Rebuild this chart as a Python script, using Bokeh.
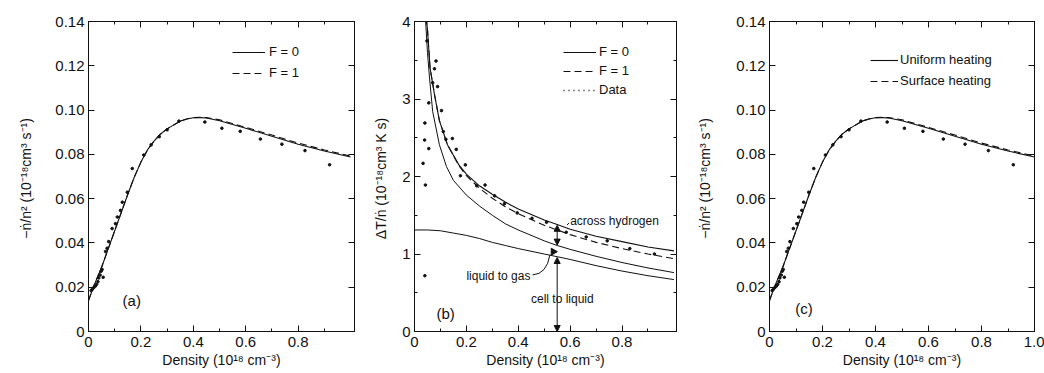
import math
from bokeh.plotting import figure
from bokeh.layouts import row
from bokeh.models import (Range1d, FixedTicker, CustomJSTickFormatter, LinearAxis,
                          Legend, LegendItem, Label, Arrow, NormalHead)
from bokeh.embed import file_html
from bokeh.resources import INLINE

# ---------------- data: panels (a) and (c) ----------------
rate_x = [0, 0.02, 0.05, 0.1, 0.15, 0.175, 0.2, 0.225, 0.25, 0.275, 0.3, 0.35, 0.375, 0.4, 0.425, 0.45, 0.5, 0.6, 0.7, 0.8, 0.9, 1.0]
rate_f0 = [0.0140, 0.0205, 0.0290, 0.0455, 0.0620, 0.0698, 0.0765, 0.0820, 0.0860, 0.0892, 0.0915, 0.0950, 0.0960, 0.0965, 0.0966, 0.0964, 0.0952, 0.0918, 0.0882, 0.0846, 0.0815, 0.0788]
rate_f1 = [0.0140, 0.0205, 0.0290, 0.0455, 0.0620, 0.0698, 0.0765, 0.0820, 0.0860, 0.0892, 0.0915, 0.0950, 0.0960, 0.0966, 0.0967, 0.0966, 0.0956, 0.0922, 0.0887, 0.0851, 0.0820, 0.0792]
rate_data_x = [0.010, 0.014, 0.020, 0.026, 0.031, 0.036, 0.039, 0.044, 0.048, 0.052, 0.056, 0.065, 0.071,
               0.077, 0.090, 0.103, 0.110, 0.122, 0.129, 0.148, 0.167, 0.211, 0.239, 0.270, 0.300, 0.345,
               0.444, 0.509, 0.579, 0.656, 0.738, 0.826, 0.920]
rate_data_y = [0.0185, 0.0190, 0.0198, 0.0205, 0.0213, 0.0225, 0.0242, 0.0255, 0.0272, 0.0280, 0.0245, 0.0361, 0.0376,
               0.0406, 0.0465, 0.0487, 0.0517, 0.0547, 0.0584, 0.0629, 0.0736, 0.0797, 0.0843, 0.0880, 0.0911, 0.0950,
               0.0946, 0.0918, 0.0904, 0.0869, 0.0846, 0.0817, 0.0753]

# ---------------- data: panel (b) ----------------
hyd_f0_x = [0.045, 0.05, 0.06, 0.077, 0.096, 0.127, 0.171, 0.2, 0.25, 0.3, 0.35, 0.4, 0.5, 0.55, 0.6, 0.7, 0.8, 0.9, 1.0]
hyd_f0_y = [4.05, 3.90, 3.40, 3.06, 2.72, 2.41, 2.15, 2.03, 1.88, 1.77, 1.67, 1.58, 1.44, 1.38, 1.32, 1.23, 1.16, 1.09, 1.04]
hyd_f1_x = [0.045, 0.05, 0.06, 0.077, 0.096, 0.127, 0.171, 0.2, 0.25, 0.3, 0.35, 0.4, 0.5, 0.6, 0.7, 0.8, 0.9, 1.0]
hyd_f1_y = [4.05, 3.90, 3.40, 3.06, 2.72, 2.41, 2.14, 2.01, 1.85, 1.72, 1.61, 1.52, 1.37, 1.25, 1.15, 1.07, 1.00, 0.94]
liq_x = [0.042, 0.05, 0.058, 0.07, 0.096, 0.123, 0.15, 0.2, 0.25, 0.3, 0.35, 0.4, 0.5, 0.55, 0.6, 0.7, 0.8, 0.9, 1.0]
liq_y = [4.05, 3.60, 3.27, 2.84, 2.41, 2.13, 1.95, 1.76, 1.62, 1.50, 1.39, 1.31, 1.17, 1.11, 1.06, 0.97, 0.89, 0.82, 0.76]
cell_x = [0, 0.05, 0.1, 0.15, 0.2, 0.25, 0.3, 0.35, 0.4, 0.5, 0.55, 0.6, 0.7, 0.8, 0.9, 1.0]
cell_y = [1.31, 1.31, 1.30, 1.27, 1.24, 1.20, 1.15, 1.11, 1.07, 1.00, 0.965, 0.93, 0.85, 0.78, 0.72, 0.67]
temp_data_x = [0.033, 0.040, 0.039, 0.040, 0.042, 0.048, 0.055, 0.055, 0.070, 0.077, 0.083, 0.089, 0.104, 0.111,
               0.121, 0.146, 0.161, 0.177, 0.196, 0.240, 0.272, 0.309, 0.347, 0.396, 0.453, 0.509, 0.585, 0.662,
               0.743, 0.830, 0.925]
temp_data_y = [2.17, 2.69, 2.47, 0.72, 1.89, 3.75, 2.95, 2.36, 3.21, 3.39, 3.49, 3.16, 2.85, 2.58,
               2.48, 2.49, 2.35, 2.01, 2.15, 1.88, 1.89, 1.75, 1.65, 1.53, 1.46, 1.41, 1.28, 1.22,
               1.17, 1.07, 1.00]

# ---------------- ticks / labels ----------------
x_ticks_ab = [0, 0.2, 0.4, 0.6, 0.8]
x_ticks_c = [0, 0.2, 0.4, 0.6, 0.8, 1.0]
x_minor = [0.1, 0.3, 0.5, 0.7, 0.9]
rate_ticks = [0, 0.02, 0.04, 0.06, 0.08, 0.10, 0.12, 0.14]
temp_ticks = [0, 1, 2, 3, 4]
temp_minor = [0.5, 1.5, 2.5, 3.5]

x_label = "Density (10¹⁸ cm⁻³)"
rate_label = "−ṅ/n²  (10⁻¹⁸cm³ s⁻¹)"
temp_label = "ΔT/ṅ  (10⁻¹⁸cm³ K s)"

FONT = "Liberation Sans"
INK = "#111111"

x_fmt = "return tick == 0 ? '0' : tick.toFixed(1);"
rate_fmt = "return tick == 0 ? '0' : tick.toFixed(2);"
temp_fmt = "return tick.toFixed(0);"
blank_fmt = "return '';"


def make_fig(width, left, right, top, bottom, xr, yr):
    p = figure(width=width, height=373, output_backend="svg", toolbar_location=None,
               x_range=Range1d(*xr), y_range=Range1d(*yr),
               min_border_left=left, min_border_right=right,
               min_border_top=top, min_border_bottom=bottom,
               x_axis_location=None, y_axis_location=None)
    p.grid.visible = False
    p.outline_line_color = INK
    p.outline_line_width = 1
    p.background_fill_color = "white"
    p.border_fill_color = "white"
    return p


def add_axes(p, xt, xm, yt, ym, yfmt, ylabel, ystand, xlab_stand=2):
    specs = [("below", xt, xm, x_fmt, x_label), ("above", xt, xm, blank_fmt, None),
             ("left", yt, ym, yfmt, ylabel), ("right", yt, ym, blank_fmt, None)]
    for side, ticks, minor, fmt, lab in specs:
        ax = LinearAxis(ticker=FixedTicker(ticks=ticks, minor_ticks=minor),
                        formatter=CustomJSTickFormatter(code=fmt))
        ax.major_tick_in = 6
        ax.major_tick_out = 0
        ax.minor_tick_in = 3
        ax.minor_tick_out = 0
        ax.axis_line_color = INK
        ax.major_tick_line_color = INK
        ax.minor_tick_line_color = INK
        ax.major_label_text_font = FONT
        ax.major_label_text_color = INK
        if fmt == blank_fmt:
            ax.major_label_text_font_size = "0px"
            ax.major_label_standoff = 0
        else:
            ax.major_label_text_font_size = "15px"
            ax.major_label_standoff = 4 if side == "left" else 5
        if lab:
            ax.axis_label = lab
            ax.axis_label_text_font = FONT
            ax.axis_label_text_font_style = "normal"
            ax.axis_label_text_font_size = "14px"
            ax.axis_label_text_color = INK
            ax.axis_label_standoff = ystand if side == "left" else xlab_stand
        p.add_layout(ax, side)


def legend(p, items, loc, glyph_w, standoff, spacing, gh):
    lg = Legend(items=items, location=loc, glyph_width=glyph_w, glyph_height=gh,
                label_height=gh, label_standoff=standoff, spacing=spacing,
                padding=0, margin=0, border_line_color=None, background_fill_alpha=0,
                label_text_font=FONT, label_text_font_size="13px", label_text_color=INK)
    p.add_layout(lg)


def rate_panel(width, left, right, top, bottom, xmax, xt, ystand, lab, names, loc, gw, gs, tag_xy):
    p = make_fig(width, left, right, top, bottom, (0, xmax), (0, 0.14))
    add_axes(p, xt, x_minor, rate_ticks, [], rate_fmt, rate_label, ystand)
    r0 = p.line(rate_x, rate_f0, line_color=INK, line_width=1.1)
    r1 = p.line(rate_x, rate_f1, line_color=INK, line_width=1.1, line_dash="7 4")
    p.scatter(rate_data_x, rate_data_y, size=2.6, color=INK, marker="circle")
    legend(p, [LegendItem(label=names[0], renderers=[r0]), LegendItem(label=names[1], renderers=[r1])],
           loc, gw, gs, 6, 14)
    p.add_layout(Label(x=tag_xy[0], y=tag_xy[1], text=lab, text_font=FONT, text_font_size="15px",
                       text_align="center", text_baseline="middle", text_color=INK))
    return p


# ---------------- panel (a) ----------------
pa = rate_panel(370, 88, 16, 17, 42, 1.015, x_ticks_ab, 18, "(a)", ("F = 0", "F = 1"),
                (144, 251), 33, 4, (0.165, 0.014))

# ---------------- panel (b) ----------------
pb = make_fig(310, 38, 4, 18, 42, (0, 1.01), (0, 4))
add_axes(pb, x_ticks_ab, x_minor, temp_ticks, temp_minor, temp_fmt, temp_label, 10)
rb0 = pb.line(hyd_f0_x, hyd_f0_y, line_color=INK, line_width=1.1)
rb1 = pb.line(hyd_f1_x, hyd_f1_y, line_color=INK, line_width=1.1, line_dash="7 4")
pb.line(liq_x, liq_y, line_color=INK, line_width=1.0)
pb.line(cell_x, cell_y, line_color=INK, line_width=1.0)
pb.scatter(temp_data_x, temp_data_y, size=2.6, color=INK, marker="circle")
# legend-only glyph for the "Data" entry (single NaN point, nothing drawn in the plot)
rdot = pb.line([float("nan")], [float("nan")], line_color=INK, line_width=1.6, line_dash="1 4")
legend(pb, [LegendItem(label="F = 0", renderers=[rb0]), LegendItem(label="F = 1", renderers=[rb1]),
            LegendItem(label="Data", renderers=[rdot])], (149, 234), 33, 3, 4, 14)

head = dict(size=6, fill_color=INK, line_color=INK)
pb.add_layout(Arrow(x_start=0.55, y_start=0.0, x_end=0.55, y_end=0.955, line_color=INK, line_width=1,
                    start=NormalHead(**head), end=NormalHead(**head)))
pb.add_layout(Arrow(x_start=0.55, y_start=1.115, x_end=0.55, y_end=1.37, line_color=INK, line_width=1,
                    start=NormalHead(**head), end=NormalHead(**head)))
pb.scatter([0.535], [1.03], marker="triangle", angle=-math.pi / 2, size=7, color=INK)
pb.quadratic(x0=0.455, y0=0.73, x1=0.522, y1=0.99, cx=0.51, cy=0.74, line_color=INK, line_width=1)
pb.segment(x0=0.588, y0=1.375, x1=0.596, y1=1.40, line_color=INK, line_width=1)
for txt, x, y, align in [("across hydrogen", 0.60, 1.42, "left"), ("liquid to gas", 0.20, 0.72, "left"),
                         ("cell to liquid", 0.57, 0.42, "center")]:
    pb.add_layout(Label(x=x, y=y, text=txt, text_font=FONT, text_font_size="12px", text_align=align,
                        text_baseline="middle", text_color=INK))
pb.add_layout(Label(x=0.12, y=0.235, text="(b)", text_font=FONT, text_font_size="15px",
                    text_align="center", text_baseline="middle", text_color=INK))

# ---------------- panel (c) ----------------
pc = rate_panel(364, 89, 10, 21, 40, 1.0, x_ticks_c, 20, "(c)", ("Uniform heating", "Surface heating"),
                (101, 243), 28, 2, (0.13, 0.0105))

layout = row(pa, pb, pc, spacing=0)
open("out.html", "w").write(file_html(layout, INLINE))
